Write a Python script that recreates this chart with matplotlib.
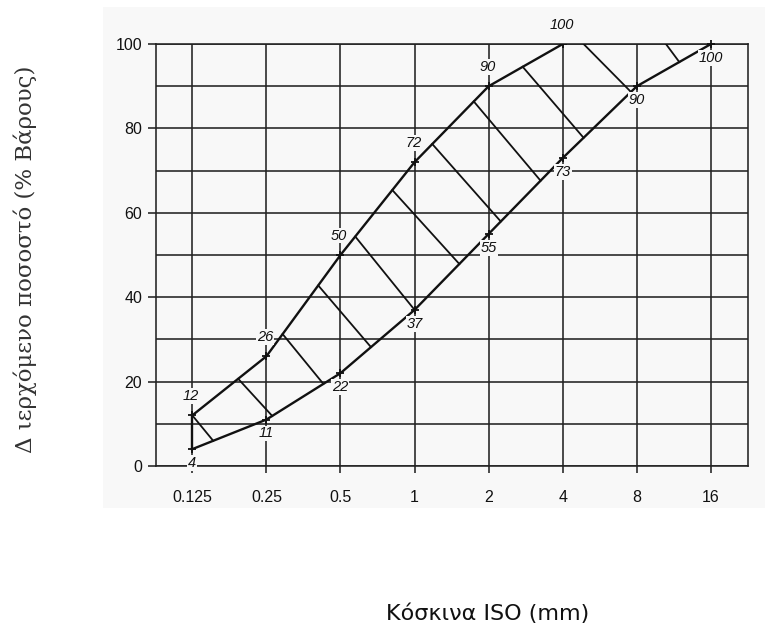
import numpy as np
import matplotlib
matplotlib.use("Agg")
import matplotlib.pyplot as plt
from matplotlib.patches import Rectangle
from matplotlib.ticker import FixedLocator, FixedFormatter, NullLocator

# ---- data ----
sieve_mm = [0.125, 0.25, 0.5, 1, 2, 4, 8, 16]
sieve_labels = ["0.125", "0.25", "0.5", "1", "2", "4", "8", "16"]

upper_mm = [0.125, 0.25, 0.5, 1, 2, 4]
upper_pct = [12, 26, 50, 72, 90, 100]

lower_mm = [0.125, 0.25, 0.5, 1, 2, 4, 8, 16]
lower_pct = [4, 11, 22, 37, 55, 73, 90, 100]

# hatch lines between the envelopes: start on upper limit, end on lower limit (mm)
hatch_from_mm = [0.125, 0.192, 0.291, 0.406, 0.574, 0.812, 1.18, 1.74, 2.75, 4.86, 10.5]
hatch_to_mm = [0.152, 0.264, 0.426, 0.665, 1.0, 1.52, 2.24, 3.25, 4.86, 7.57, 11.9]

y_major = [0, 20, 40, 60, 80, 100]
y_minor = [10, 30, 50, 70, 90]

BG = "#f8f8f8"
INK = "#111111"
GRID = "#222222"

fig = plt.figure(figsize=(7.67, 6.30), dpi=100)
fig.patches.append(Rectangle((103 / 767, 1 - 508 / 630), (765 - 103) / 767, (508 - 7) / 630,
                             transform=fig.transFigure, facecolor=BG, edgecolor="none", zorder=-10))

ax = fig.add_axes([156 / 767, 1 - 466 / 630, (748 - 156) / 767, (466 - 44) / 630])
ax.set_facecolor(BG)
ax.set_xscale("log", base=2)
ax.set_xlim(0.125 * 2 ** -0.49, 16 * 2 ** 0.5)
ax.set_ylim(0, 100)

ax.xaxis.set_major_locator(FixedLocator(sieve_mm))
ax.xaxis.set_major_formatter(FixedFormatter(sieve_labels))
ax.xaxis.set_minor_locator(NullLocator())
ax.yaxis.set_major_locator(FixedLocator(y_major))
ax.yaxis.set_minor_locator(FixedLocator(y_minor))

ax.grid(True, which="both", color=GRID, linewidth=1.15, zorder=1)
ax.set_axisbelow(True)
for s in ax.spines.values():
    s.set_color(GRID)
    s.set_linewidth(1.15)

ax.tick_params(axis="x", which="major", length=5, width=1.15, color=GRID, pad=12,
               labelsize=11.5)
ax.tick_params(axis="y", which="major", length=6, width=1.15, color=GRID, pad=4,
               labelsize=11.5)
ax.tick_params(axis="y", which="minor", length=0)
for lab in ax.get_xticklabels() + ax.get_yticklabels():
    lab.set_fontfamily("Liberation Sans")
    lab.set_color(INK)

# envelopes
ax.plot(upper_mm, upper_pct, color=INK, lw=1.7, zorder=3)
ax.plot(lower_mm, lower_pct, color=INK, lw=1.7, zorder=3)
ax.plot([upper_mm[0], lower_mm[0]], [upper_pct[0], lower_pct[0]], color=INK, lw=1.7, zorder=3)
ax.plot(upper_mm, upper_pct, linestyle="none", marker="+", ms=6, mew=1.3, color=INK, zorder=4)
ax.plot(lower_mm, lower_pct, linestyle="none", marker="+", ms=6, mew=1.3, color=INK, zorder=4,
        clip_on=False)

# hatch
lu = np.log2(upper_mm)
ll = np.log2(lower_mm)
for a, b in zip(hatch_from_mm, hatch_to_mm):
    ya = np.interp(np.log2(a), lu, upper_pct)
    yb = np.interp(np.log2(b), ll, lower_pct)
    ax.plot([a, b], [ya, yb], color=INK, lw=1.3, zorder=3)

lab_kw = dict(fontsize=10.5, style="italic", family="Liberation Sans", color=INK,
              ha="center", va="center", annotation_clip=False, zorder=5,
              textcoords="offset points",
              bbox=dict(facecolor=BG, edgecolor="none", pad=0.6))
for xv, yv in zip(upper_mm, upper_pct):
    ax.annotate(str(yv), (xv, yv), xytext=(-1, 14), **lab_kw)
for xv, yv in zip(lower_mm, lower_pct):
    ax.annotate(str(yv), (xv, yv), xytext=(0, -10), **lab_kw)

fig.text(25 / 767, 1 - 259 / 630, "Δ ιερχόμενο ποσοστό (% Βάρους)", rotation=90,
         family="DejaVu Serif", fontsize=16.5, color="#333333", ha="center", va="center")
fig.text(488 / 767, 1 - 614 / 630, "Κόσκινα ISO (mm)", family="DejaVu Sans",
         fontsize=16, color=INK, ha="center", va="center")

fig.savefig("out.png", dpi=100, facecolor="white")
